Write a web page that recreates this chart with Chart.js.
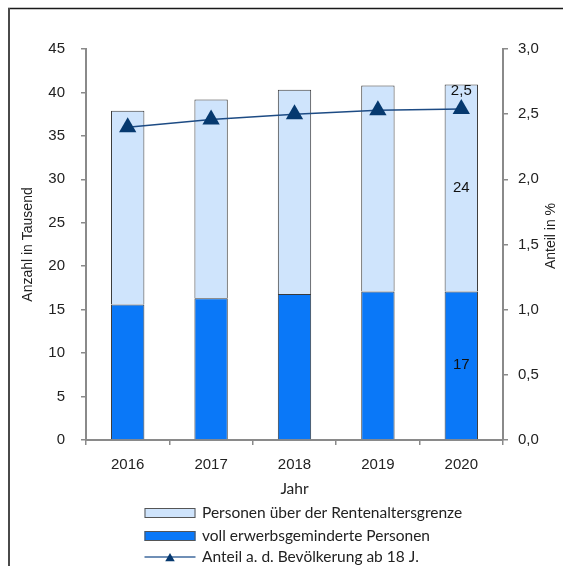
<!DOCTYPE html>
<html>
<head>
<meta charset="utf-8">
<script src="https://cdn.jsdelivr.net/npm/chart.js@4.4.1/dist/chart.umd.min.js"></script>
<style>
  html, body { margin: 0; padding: 0; background: #fff; }
  canvas { display: block; }
</style>
</head>
<body>
<canvas id="chart" width="563" height="566"></canvas>
<script>
// Daten (Anzahl in Tausend, Anteil in %)
const years = ['2016', '2017', '2018', '2019', '2020'];
const vollErwerbsgemindert = [15.6, 16.3, 16.8, 17.1, 17.1];
const ueberRentenalter = [22.3, 22.9, 23.5, 23.7, 23.8];
const anteilBevoelkerung = [2.40, 2.46, 2.50, 2.53, 2.54];

// Beschriftungen nur am letzten Jahr
const labelsErwerbsgemindert = [null, null, null, null, '17'];
const labelsRentenalter = [null, null, null, null, '24'];
const labelsAnteil = [null, null, null, null, '2,5'];

const legendNames = [
  'Personen über der Rentenaltersgrenze',
  'voll erwerbsgeminderte Personen',
  'Anteil a. d. Bevölkerung ab 18 J.'
];

const tickFont = { family: '"Liberation Sans", Arial, sans-serif', size: 15 };
const axisGrey = '#8a8a8a';

// Rahmen, Achsentitel, Werte und Legende
const extras = {
  id: 'extras',
  afterDraw(chart) {
    const ctx = chart.ctx;
    const area = chart.chartArea;
    ctx.save();

    // Rahmen oben und links
    ctx.strokeStyle = '#1a1a1a';
    ctx.lineWidth = 1.5;
    ctx.beginPath(); ctx.moveTo(563, 8.5); ctx.lineTo(8, 8.5); ctx.stroke();
    ctx.strokeStyle = '#4a4a4a';
    ctx.lineWidth = 2;
    ctx.beginPath(); ctx.moveTo(9, 8); ctx.lineTo(9, 566); ctx.stroke();

    // Achsentitel
    ctx.fillStyle = '#222';
    ctx.font = '14px "Liberation Sans", Arial, sans-serif';
    ctx.textAlign = 'center';
    ctx.textBaseline = 'middle';
    ctx.save();
    ctx.translate(28, (area.top + area.bottom) / 2);
    ctx.rotate(-Math.PI / 2);
    ctx.fillText('Anzahl in Tausend', 0, 0);
    ctx.restore();
    ctx.save();
    ctx.translate(551, 236);
    ctx.rotate(-Math.PI / 2);
    ctx.fillText('Anteil in %', 0, 0);
    ctx.restore();

    ctx.font = '15.5px Lato, sans-serif';
    ctx.fillText('Jahr', (area.left + area.right) / 2, 489);

    // Werte in den Balken
    ctx.font = '15px "Liberation Sans", Arial, sans-serif';
    ctx.fillStyle = '#111';
    const darkMeta = chart.getDatasetMeta(0);
    const lightMeta = chart.getDatasetMeta(1);
    const lineMeta = chart.getDatasetMeta(2);
    years.forEach((y, i) => {
      if (labelsErwerbsgemindert[i]) {
        const p = darkMeta.data[i].getCenterPoint();
        ctx.fillText(labelsErwerbsgemindert[i], p.x, p.y);
      }
      if (labelsRentenalter[i]) {
        const p = lightMeta.data[i].getCenterPoint();
        ctx.fillText(labelsRentenalter[i], p.x, p.y);
      }
      if (labelsAnteil[i]) {
        const p = lineMeta.data[i];
        ctx.fillText(labelsAnteil[i], p.x, p.y - 18);
      }
    });

    // Legende
    const ds = chart.data.datasets;
    const order = [1, 0, 2];
    const rows = [513, 536, 557];
    const sx = 144.5, sw = 51, tx = 202;
    ctx.font = '15.5px Lato, sans-serif';
    ctx.textAlign = 'left';
    order.forEach((di, r) => {
      const d = ds[di];
      const y = rows[r];
      if (d.type === 'line') {
        ctx.strokeStyle = '#3f6a9e';
        ctx.lineWidth = 1.5;
        ctx.beginPath(); ctx.moveTo(sx, y); ctx.lineTo(sx + sw, y); ctx.stroke();
        const cx = sx + sw / 2, rad = 5.5, cy = y + 1.5;
        ctx.fillStyle = d.pointBackgroundColor;
        ctx.beginPath();
        ctx.moveTo(cx, cy - rad);
        ctx.lineTo(cx + rad * 0.866, cy + rad * 0.5);
        ctx.lineTo(cx - rad * 0.866, cy + rad * 0.5);
        ctx.closePath();
        ctx.fill();
      } else {
        ctx.fillStyle = d.backgroundColor;
        ctx.fillRect(sx, y - 5, sw, 10);
        ctx.strokeStyle = '#555';
        ctx.lineWidth = 1;
        ctx.strokeRect(sx + 0.5, y - 4.5, sw - 1, 9);
      }
      ctx.fillStyle = '#222';
      ctx.fillText(d.label, tx, y);
    });

    ctx.restore();
  }
};

new Chart(document.getElementById('chart'), {
  type: 'bar',
  data: {
    labels: years,
    datasets: [
      {
        label: legendNames[1],
        data: vollErwerbsgemindert,
        backgroundColor: '#0a78f8',
        borderColor: '#3a3a3a',
        borderWidth: 1,
        stack: 'personen',
        yAxisID: 'y',
        categoryPercentage: 0.8,
        barPercentage: 0.5,
        order: 2
      },
      {
        label: legendNames[0],
        data: ueberRentenalter,
        backgroundColor: '#cfe4fc',
        borderColor: '#3a3a3a',
        borderWidth: 1,
        stack: 'personen',
        yAxisID: 'y',
        categoryPercentage: 0.8,
        barPercentage: 0.5,
        order: 2
      },
      {
        type: 'line',
        label: legendNames[2],
        data: anteilBevoelkerung,
        yAxisID: 'y1',
        borderColor: '#1d4b84',
        borderWidth: 1.5,
        pointStyle: 'triangle',
        pointRadius: 10,
        pointBackgroundColor: '#06396f',
        pointBorderColor: '#06396f',
        pointBorderWidth: 0,
        tension: 0,
        order: 1
      }
    ]
  },
  options: {
    responsive: false,
    devicePixelRatio: 1,
    animation: false,
    layout: { padding: { top: 49, left: 0, right: 0, bottom: 0 } },
    plugins: {
      legend: { display: false },
      tooltip: { enabled: false }
    },
    scales: {
      x: {
        stacked: true,
        grid: { drawOnChartArea: false, offset: true, tickLength: 5, color: axisGrey, lineWidth: 1.5 },
        border: { color: axisGrey, width: 2 },
        ticks: { font: tickFont, color: '#222', padding: 11, maxRotation: 0 },
        afterFit(scale) { scale.height = 126; }
      },
      y: {
        stacked: true,
        position: 'left',
        min: 0,
        max: 45,
        grid: { drawOnChartArea: false, tickLength: 5, color: axisGrey, lineWidth: 1.5 },
        border: { color: axisGrey, width: 2 },
        ticks: { stepSize: 5, font: tickFont, color: '#222', padding: 16 },
        afterFit(scale) { scale.width = 86; }
      },
      y1: {
        position: 'right',
        min: 0,
        max: 3,
        grid: { drawOnChartArea: false, tickLength: 5, color: axisGrey, lineWidth: 1.5 },
        border: { color: axisGrey, width: 2 },
        ticks: {
          stepSize: 0.5,
          font: tickFont,
          color: '#222',
          padding: 10,
          callback: v => v.toFixed(1).replace('.', ',')
        },
        afterFit(scale) { scale.width = 60; }
      }
    }
  },
  plugins: [extras]
});
</script>
</body>
</html>
